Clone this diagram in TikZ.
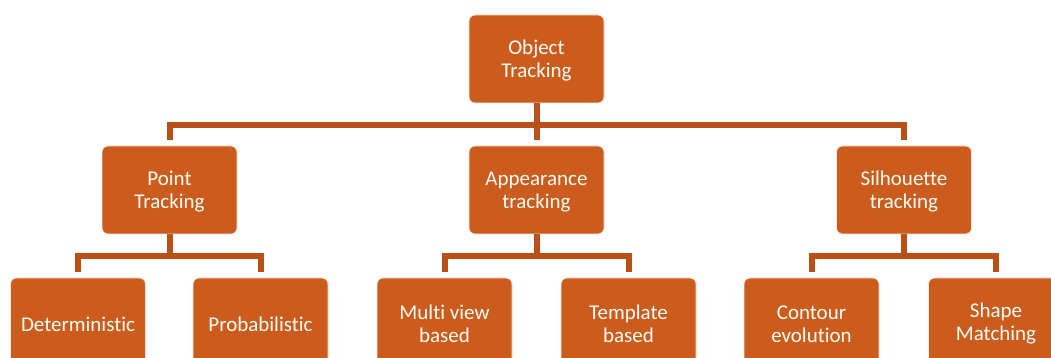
\documentclass[tikz,border=0pt]{standalone}
\usepackage{fontspec}
\setmainfont{Carlito}[Ligatures=CommonOff]
\definecolor{boxfill}{RGB}{204,91,30}
\definecolor{linkcol}{RGB}{184,80,24}
\begin{document}
\begin{tikzpicture}[x=1pt,y=1pt,
  tbox/.style={draw=white!85!boxfill, line width=0.8pt, fill=boxfill, rounded corners=6pt,
    minimum width=135pt, minimum height=88pt, inner sep=0pt, outer sep=0pt},
  txt/.style={text=white!96!yellow, align=center, inner sep=0pt, yshift=-2pt,
    font=\fontsize{21}{23}\selectfont},
  link/.style={draw=linkcol, line width=6pt, line join=miter}]
\useasboundingbox (0,0) rectangle (1051,358);
\clip (0,0) rectangle (1051,358);
\node[tbox] (ot) at (536.5,299) {};
\node[tbox] (pt) at (169.5,168) {};
\node[tbox] (at) at (536.5,168) {};
\node[tbox] (st) at (904,168) {};
\node[tbox] (de) at (78,36) {};
\node[tbox] (pr) at (260.5,36) {};
\node[tbox] (mv) at (444.5,36) {};
\node[tbox] (tb) at (628.5,36) {};
\node[tbox] (ce) at (811.5,36) {};
\node[tbox] (sm) at (996,36) {};
\node[txt] (otl) at (ot.center) {Object\\Tracking};
\node[txt] (ptl) at (pt.center) {Point\\Tracking};
\node[txt] (atl) at (at.center) {Appearance\\tracking};
\node[txt] (stl) at (st.center) {Silhouette\\tracking};
\node[txt] (del) at (de.center) {Deterministic};
\node[txt] (prl) at (pr.center) {Probabilistic};
\node[txt] (mvl) at (mv.center) {Multi view\\based};
\node[txt] (tbl) at (tb.center) {Template\\based};
\node[txt] (cel) at (ce.center) {Contour\\evolution};
\node[txt] (sml) at (sm.center) {Shape\\Matching};
\foreach \p/\c in {ot/pt,ot/at,ot/st,pt/de,pt/pr,at/mv,at/tb,st/ce,st/sm}{
  \draw[link] (\p.south) -- ++(0,-22) -| ([yshift=5.5pt]\c.north);
}
\end{tikzpicture}
\end{document}
